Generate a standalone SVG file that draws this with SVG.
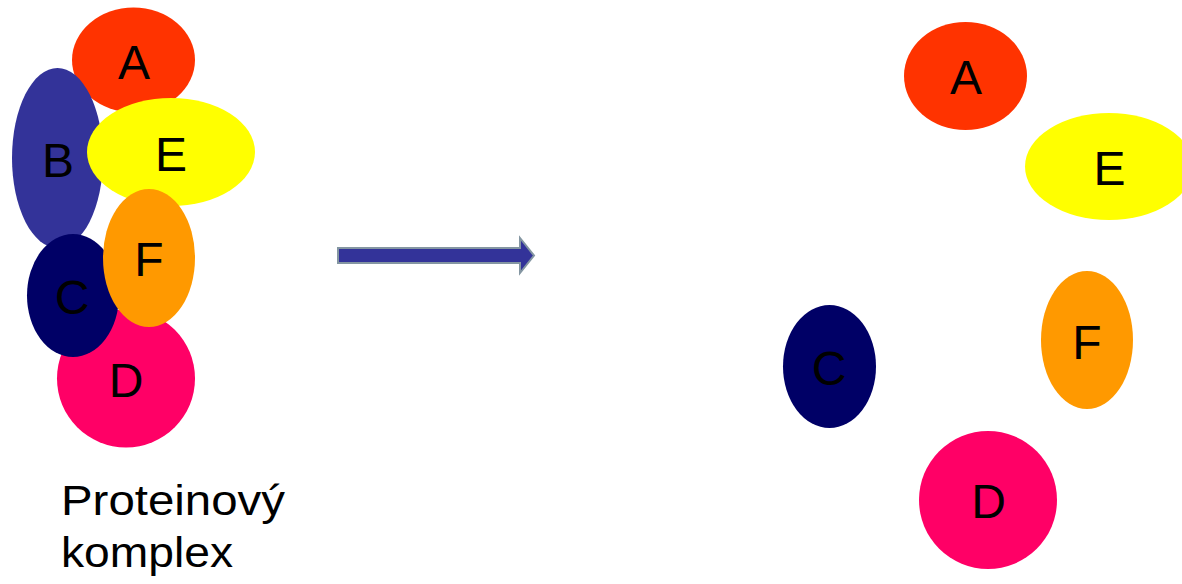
<svg xmlns="http://www.w3.org/2000/svg" width="1182" height="584" viewBox="0 0 1182 584">
  <style>
    .lbl { font-family: "Liberation Sans", Arial, sans-serif; font-size: 48px; fill: #000; text-anchor: middle; }
    .cap { font-family: "Liberation Sans", Arial, sans-serif; font-size: 42px; fill: #000; }
    .a { fill: #FF3300; }
    .b { fill: #333399; }
    .c { fill: #000066; }
    .d { fill: #FF0066; }
    .e { fill: #FFFF00; }
    .f { fill: #FF9900; }
  </style>
  <rect width="1182" height="584" fill="#ffffff"/>

  <!-- Left: protein complex -->
  <g id="complex">
    <g id="L-A"><ellipse class="a" cx="133.5" cy="60" rx="61.5" ry="52.5"/><text class="lbl" x="134" y="79">A</text></g>
    <g id="L-B"><ellipse class="b" cx="57.5" cy="158" rx="45.5" ry="90"/><text class="lbl" x="58" y="177">B</text></g>
    <g id="L-E"><ellipse class="e" cx="171" cy="152" rx="84" ry="54"/><text class="lbl" x="171" y="171">E</text></g>
    <g id="L-D"><circle class="d" cx="126" cy="378.5" r="69"/><text class="lbl" x="126" y="397">D</text></g>
    <g id="L-C"><ellipse class="c" cx="73" cy="295.5" rx="46" ry="61.5"/><text class="lbl" x="72" y="314">C</text></g>
    <g id="L-F"><ellipse class="f" cx="149" cy="258" rx="46" ry="69"/><text class="lbl" x="149" y="276">F</text></g>
    <text class="cap" x="61" y="515" textLength="224" lengthAdjust="spacingAndGlyphs">Proteinový</text>
    <text class="cap" x="61" y="567" textLength="172" lengthAdjust="spacingAndGlyphs">komplex</text>
  </g>

  <!-- Connector arrow -->
  <g id="connectors">
    <polygon points="338,248 520,248 520,238 534,255.5 520,273 520,263 338,263" fill="#333399" stroke="#8496a2" stroke-width="2" stroke-linejoin="miter"/>
  </g>

  <!-- Right: dissociated subunits -->
  <g id="R-A"><ellipse class="a" cx="965.5" cy="76" rx="61.5" ry="54"/><text class="lbl" x="966" y="94">A</text></g>
  <g id="R-E"><ellipse class="e" cx="1109" cy="166.5" rx="84" ry="53.5"/><text class="lbl" x="1109.5" y="185">E</text></g>
  <g id="R-F"><ellipse class="f" cx="1087" cy="340" rx="46" ry="69"/><text class="lbl" x="1087" y="359">F</text></g>
  <g id="R-C"><ellipse class="c" cx="829.5" cy="366.5" rx="46.5" ry="61.5"/><text class="lbl" x="829" y="385">C</text></g>
  <g id="R-D"><circle class="d" cx="988" cy="500" r="69"/><text class="lbl" x="988.5" y="518">D</text></g>
</svg>
